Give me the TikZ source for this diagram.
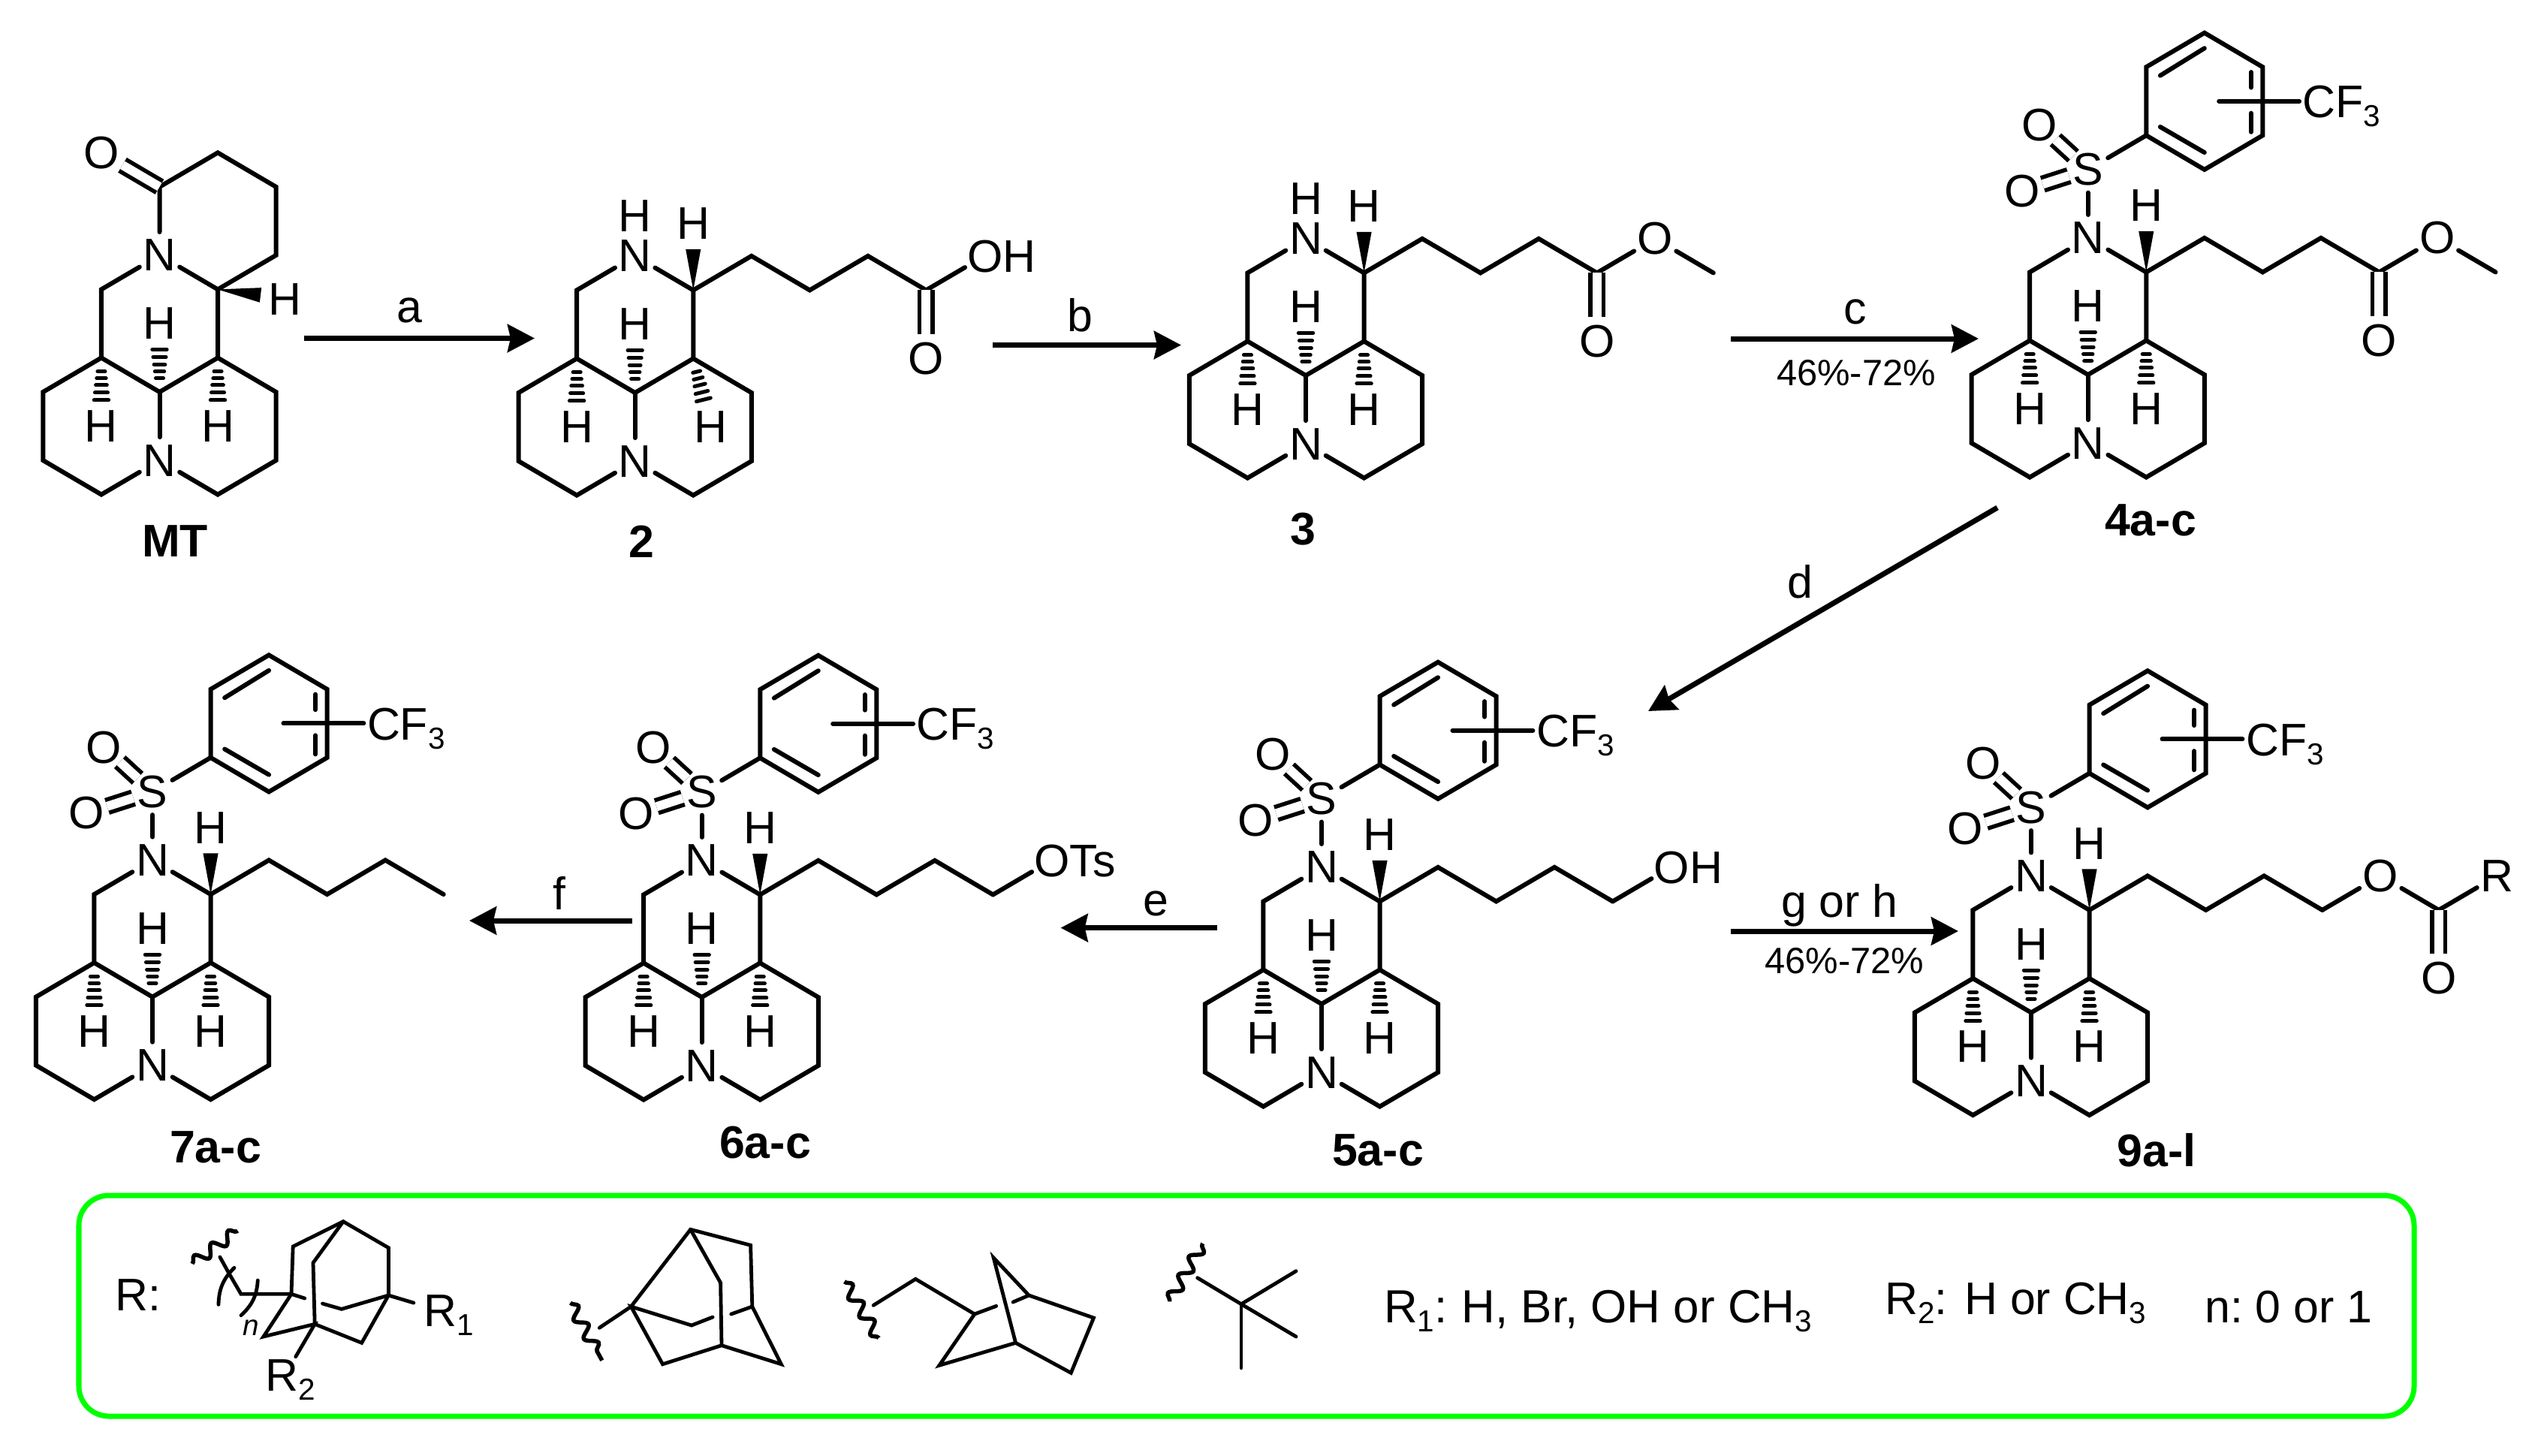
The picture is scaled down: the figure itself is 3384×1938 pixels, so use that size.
\documentclass[tikz,border=0pt]{standalone}
\usepackage{fontspec}
\setmainfont{Liberation Sans}
\usetikzlibrary{arrows.meta,decorations.pathmorphing}

\newcommand{\lowidx}[1]{\raisebox{-.2em}{\fontsize{11.5}{12}\selectfont #1}}

\tikzset{
  lbl/.style={inner sep=0,anchor=base,font=\fontsize{17.3}{20}\selectfont},
  yld/.style={inner sep=0,anchor=base,font=\fontsize{13.9}{16}\selectfont},
  cpd/.style={inner sep=0,anchor=center,font=\fontsize{17.3}{20}\selectfont\bfseries},
  atom/.style={circle,inner sep=0,minimum size=.6cm,font=\fontsize{17.3}{20}\selectfont},
  bond/.style={line width=.06cm,line cap=round,line join=miter},
  dbond/.style={line width=.055cm,double,double distance=.12cm},
  sobond/.style={dbond,shorten <=-.04cm,shorten >=-.04cm},
  thin bond/.style={line width=.048cm,line cap=round,line join=miter},
  wavy/.style={line width=.055cm,decorate,decoration={snake,amplitude=.075cm,segment length=.28cm}},
  rxn/.style={line width=.07cm,-{Stealth[length=.36cm,width=.37cm,inset=.04cm]}},
  mol/.style 2 args={shift={(#1,#2)},x=.775cm,y=.455cm},
  hashup/.pic={
    \foreach \d/\w in {.40/.065,.60/.08,.80/.095,1.02/.11,1.24/.125}
      \draw[line width=.05cm,line cap=round] (-\w,\d) -- (\w,\d);
  }
}

% the three fused rings, #1 = tilt of the right hash, #2 = x of its H
\newcommand{\tricycle}[2][0]{
  \coordinate (c0) at (0,0);
  \coordinate (c1) at (-1,1);
  \coordinate (c2) at (1,1);
  \coordinate (c3) at (-1,3);
  \coordinate (c4) at (1,3);
  \coordinate (c5) at (-2,0);
  \coordinate (c6) at (-2,-2);
  \coordinate (c7) at (-1,-3);
  \coordinate (c8) at (2,0);
  \coordinate (c9) at (2,-2);
  \coordinate (c10) at (1,-3);
  \node[atom] (Nb) at (0,-2) {N};
  \node[atom] (Nt) at (0,4) {N};
  \draw[bond] (c1) -- (c0) -- (c2);
  \draw[bond] (c0) -- (Nb);
  \draw[bond] (Nb) -- (c7) -- (c6) -- (c5) -- (c1) -- (c3) -- (Nt);
  \draw[bond] (Nb) -- (c10) -- (c9) -- (c8) -- (c2) -- (c4) -- (Nt);
  \pic at (0,0) {hashup};
  \pic[yscale=-1] at (-1,1) {hashup};
  \pic[rotate=#1,yscale=-1] at (1,1) {hashup};
  \node[atom] (Hc) at (0,2) {H};
  \node[atom] (Hl) at (-1,-1) {H};
  \node[atom] (Hr) at (#2,-1) {H};
}
\newcommand{\wedgeH}{
  \fill (c4) -- (.87,4.2) -- (1.13,4.2) -- cycle;
  \node[atom] (Hw) at (1,4.95) {H};
}
% butyl arm up to c15
\newcommand{\butyl}{
  \coordinate (c12) at (2,4);
  \coordinate (c13) at (3,3);
  \coordinate (c14) at (4,4);
  \coordinate (c15) at (5,3);
  \draw[bond] (c4) -- (c12) -- (c13) -- (c14) -- (c15);
}
\newcommand{\arylsulfonyl}{
  \node[atom] (S) at (0,6) {S};
  \node[atom] (Oa) at (-.83,7.3) {O};
  \node[atom] (Ob) at (-1.13,5.38) {O};
  \coordinate (r1) at (1,7);
  \coordinate (r2) at (1,9);
  \coordinate (r3) at (2,10);
  \coordinate (r4) at (3,9);
  \coordinate (r5) at (3,7);
  \coordinate (r6) at (2,6);
  \coordinate (cfa) at (2.25,8);
  \draw[bond] (Nt) -- (S);
  \draw[bond] (S) -- (r1);
  \draw[sobond] (S) -- (Oa);
  \draw[sobond] (S) -- (Ob);
  \draw[bond] (r1) -- (r2) -- (r3) -- (r4) -- (r5) -- (r6) -- cycle;
  \draw[bond] (1.24,8.75) -- (2,9.55);
  \draw[bond] (1.24,7.25) -- (2,6.5);
  \draw[bond] (2.8,8.85) -- (2.8,8.4);
  \draw[bond] (2.8,7.65) -- (2.8,7.1);
  \node[lbl,anchor=base west] (cf) at (3.68,7.52) {CF\lowidx{3}};
  \draw[bond,shorten >=.04cm] (cfa) -- (cfa -| cf.west);
}

\begin{document}
\begin{tikzpicture}[x=.01cm,y=-.01cm]
\useasboundingbox (0,0) rectangle (3384,1938);

% MT
\begin{scope}[mol={212.5}{522},name prefix=mt-]
\tricycle{1}
\coordinate (l1) at (2,4);
\coordinate (l2) at (2,6);
\coordinate (l3) at (1,7);
\coordinate (l4) at (0,6);
\node[atom] (Ok) at (-1,7) {O};
\node[atom] (Hs) at (2.15,2.72) {H};
\draw[bond] (c4) -- (l1) -- (l2) -- (l3) -- (l4) -- (Nt);
\draw[dbond] (l4) -- (Ok);
\fill (c4) -- (1.75,3.05) -- (1.72,2.62) -- cycle;
\end{scope}
\node[cpd] (lmt) at (233,721) {MT};

% 2
\begin{scope}[mol={845.7}{523},name prefix=two-]
\tricycle[14]{1.3}
\wedgeH
\butyl
\node[lbl,anchor=center] (Hn) at (0,5.17) {H};
\node[atom] (Ok) at (5,1) {O};
\node[lbl,anchor=base west] (oh) at (5.7,3.52) {OH};
\coordinate (co) at (6,4);
\draw[bond,shorten >=.3cm] (c15) -- (co);
\draw[dbond] (c15) -- (Ok);
\end{scope}
\node[cpd] (ltwo) at (854,721) {2};

% 3
\begin{scope}[mol={1739}{500},name prefix=three-]
\tricycle{1}
\wedgeH
\butyl
\node[lbl,anchor=center] (Hn) at (0,5.17) {H};
\node[atom] (Ok) at (5,1) {O};
\node[atom] (Oe) at (6,4) {O};
\coordinate (me) at (7,3);
\draw[bond] (c15) -- (Oe);
\draw[bond] (Oe) -- (me);
\draw[dbond] (c15) -- (Ok);
\end{scope}
\node[cpd] (lthree) at (1735,705) {3};

% 4a-c
\begin{scope}[mol={2780.7}{499},name prefix=four-]
\tricycle{1}
\wedgeH
\butyl
\arylsulfonyl
\node[atom] (Ok) at (5,1) {O};
\node[atom] (Oe) at (6,4) {O};
\coordinate (me) at (7,3);
\draw[bond] (c15) -- (Oe);
\draw[bond] (Oe) -- (me);
\draw[dbond] (c15) -- (Ok);
\end{scope}
\node[cpd] (lfour) at (2864,693) {4a-c};

% 7a-c
\begin{scope}[mol={203}{1327.6},name prefix=seven-]
\tricycle{1}
\wedgeH
\butyl
\arylsulfonyl
\end{scope}
\node[cpd] (lseven) at (287,1527.6) {7a-c};

% 6a-c
\begin{scope}[mol={934.7}{1328},name prefix=six-]
\tricycle{1}
\wedgeH
\butyl
\arylsulfonyl
\node[lbl,anchor=base west] (ots) at (5.7,3.52) {OTs};
\coordinate (co) at (6,4);
\draw[bond,shorten >=.3cm] (c15) -- (co);
\end{scope}
\node[cpd] (lsix) at (1019,1522) {6a-c};

% 5a-c
\begin{scope}[mol={1760}{1337},name prefix=five-]
\tricycle{1}
\wedgeH
\butyl
\arylsulfonyl
\node[lbl,anchor=base west] (oh) at (5.7,3.52) {OH};
\coordinate (co) at (6,4);
\draw[bond,shorten >=.3cm] (c15) -- (co);
\end{scope}
\node[cpd] (lfive) at (1835,1532) {5a-c};

% 9a-l
\begin{scope}[mol={2705}{1348.5},name prefix=nine-]
\tricycle{1}
\wedgeH
\butyl
\arylsulfonyl
\node[atom] (Oe) at (6,4) {O};
\coordinate (cq) at (7,3);
\node[atom] (Ok) at (7,1) {O};
\node[atom] (Rg) at (8,4) {R};
\draw[bond] (c15) -- (Oe);
\draw[bond] (Oe) -- (cq);
\draw[bond] (cq) -- (Rg);
\draw[dbond] (cq) -- (Ok);
\end{scope}
\node[cpd] (lnine) at (2872,1532) {9a-l};

% reaction arrows
\coordinate (ra0) at (405,450.5);
\coordinate (ra1) at (712,450.5);
\coordinate (rb0) at (1322,459.5);
\coordinate (rb1) at (1573,459.5);
\coordinate (rc0) at (2305,451);
\coordinate (rc1) at (2635,451);
\coordinate (rd0) at (2660,676);
\coordinate (rd1) at (2195,947);
\coordinate (re0) at (1621,1235.6);
\coordinate (re1) at (1412.6,1235.6);
\coordinate (rf0) at (842,1226);
\coordinate (rf1) at (625,1226);
\coordinate (rg0) at (2305,1240);
\coordinate (rg1) at (2608,1240);
\draw[rxn] (ra0) -- (ra1);
\draw[rxn] (rb0) -- (rb1);
\draw[rxn] (rc0) -- (rc1);
\draw[rxn] (rd0) -- (rd1);
\draw[rxn] (re0) -- (re1);
\draw[rxn] (rf0) -- (rf1);
\draw[rxn] (rg0) -- (rg1);
\node[lbl] (ta) at (545,429.5) {a};
\node[lbl] (tb) at (1438,441.5) {b};
\node[lbl] (tc) at (2471,431) {c};
\node[yld] (tcy) at (2472,513) {46\%-72\%};
\node[lbl] (td) at (2397,796) {d};
\node[lbl] (te) at (1539,1219.5) {e};
\node[lbl] (tf) at (745,1211) {f};
\node[lbl] (tg) at (2450,1221) {g or h};
\node[yld] (tgy) at (2456.5,1296) {46\%-72\%};

% R box
\draw[line width=.07cm,color={rgb,255:red,0;green,255;blue,0},rounded corners=.4cm] (105,1592) rectangle (3215,1886);
\node[lbl,anchor=base west] (tr) at (152.7,1745.7) {R:};

% adamantane with R1, R2
\coordinate (T) at (457.1,1626.7);
\coordinate (L1) at (390.2,1660);
\coordinate (L2) at (388,1723.3);
\coordinate (In) at (417,1681.7);
\coordinate (Ib) at (419.2,1763.3);
\coordinate (Rt) at (517.4,1661.7);
\coordinate (Rb) at (517.4,1725);
\coordinate (Mi) at (454.9,1743.3);
\coordinate (Me) at (429.5,1736);
\coordinate (Bt) at (481.7,1788.3);
\coordinate (At) at (350.9,1780);
\coordinate (St) at (405.8,1729);
\coordinate (Ra) at (550.9,1735);
\coordinate (Rc) at (393.8,1806.7);
\coordinate (Ca) at (321,1723.3);
\coordinate (Cb) at (304.5,1695);
\coordinate (Cc) at (292.9,1674);
\coordinate (Ba) at (291,1737.3);
\coordinate (Bb) at (312,1688.3);
\coordinate (Bc) at (343.3,1705);
\coordinate (Bd) at (321,1751.7);
\coordinate (Wa) at (256,1683);
\coordinate (Wb) at (316.5,1639);
\draw[thin bond] (St) -- (L2) -- (L1) -- (T) -- (Rt) -- (Rb) -- (Mi) -- (Me);
\draw[thin bond] (T) -- (In) -- (Ib) -- (Bt) -- (Rb) -- (Ra);
\draw[thin bond] (L2) -- (At) -- (Ib) -- (Rc);
\draw[thin bond] (L2) -- (Ca) -- (Cb) -- (Cc);
\draw[thin bond] (Ba) to[bend left=22] (Bb);
\draw[thin bond] (Bc) to[bend left=22] (Bd);
\draw[wavy] (Wa) -- (Wb);
\node[inner sep=0,font=\fontsize{11}{12}\selectfont\itshape] (tn) at (334.4,1768.3) {n};
\node[lbl,anchor=base west] (tra) at (563.4,1766) {R\lowidx{1}};
\node[lbl,anchor=base west] (trb) at (353,1852.7) {R\lowidx{2}};

% adamantyl
\coordinate (Da) at (919.6,1637.3);
\coordinate (Db) at (999.6,1658.3);
\coordinate (Dc) at (1001.8,1740);
\coordinate (Dd) at (1040.4,1816.7);
\coordinate (De) at (961,1791.7);
\coordinate (Df) at (882.5,1816.7);
\coordinate (Dg) at (840.4,1740);
\coordinate (Dh) at (959.6,1708.3);
\coordinate (Di) at (921,1765);
\coordinate (Dj) at (949.1,1754);
\coordinate (Dk) at (973.7,1750);
\coordinate (Dl) at (798.2,1768.3);
\coordinate (Wc) at (759.6,1735);
\coordinate (Wd) at (801.8,1811.7);
\draw[thin bond] (Dg) -- (Da) -- (Db) -- (Dc) -- (Dd) -- (De) -- (Df) -- (Dg) -- (Di) -- (Dj);
\draw[thin bond] (Da) -- (Dh) -- (De);
\draw[thin bond] (Dc) -- (Dk);
\draw[thin bond] (Dg) -- (Dl);
\draw[wavy] (Wc) -- (Wd);

% norbornylmethyl
\coordinate (Pa) at (1163.2,1738.3);
\coordinate (Pb) at (1219.3,1703.3);
\coordinate (Pc) at (1297.9,1750);
\coordinate (Pd) at (1250.9,1818.3);
\coordinate (Pe) at (1352.6,1788.3);
\coordinate (Pf) at (1426.3,1828.3);
\coordinate (Pg) at (1456.5,1755);
\coordinate (Ph) at (1370.2,1725);
\coordinate (Pi) at (1323.2,1675);
\coordinate (Pj) at (1326.7,1739.3);
\coordinate (Pk) at (1349.1,1734);
\coordinate (We) at (1124.6,1706.7);
\coordinate (Wf) at (1170.2,1781.7);
\draw[thin bond] (Pa) -- (Pb) -- (Pc) -- (Pd) -- (Pe) -- (Pf) -- (Pg) -- (Ph) -- (Pi) -- (Pe);
\draw[thin bond] (Pc) -- (Pj);
\draw[thin bond] (Ph) -- (Pk);
\draw[wavy] (We) -- (Wf);

% tert-butyl
\coordinate (Qa) at (1594.7,1701.7);
\coordinate (Qc) at (1653,1736.7);
\coordinate (Qd) at (1726,1692.7);
\coordinate (Qe) at (1726,1780);
\coordinate (Qf) at (1653,1821.7);
\coordinate (Wg) at (1557.5,1733.3);
\coordinate (Wh) at (1601.8,1656);
\draw[thin bond] (Qa) -- (Qc) -- (Qd);
\draw[thin bond] (Qc) -- (Qe);
\draw[thin bond] (Qc) -- (Qf);
\draw[wavy] (Wg) -- (Wh);

\node[lbl,anchor=base west,font=\fontsize{17.6}{20}\selectfont] (tra2) at (1842.5,1761) {R\lowidx{1}:\hspace{-.06em} H, Br, OH or CH\lowidx{3}};
\node[lbl,anchor=base west] (trb2) at (2509.6,1750) {R\lowidx{2}: H or CH\lowidx{3}};
\node[lbl,anchor=base west] (tnn) at (2936,1761) {n:\hspace{-.1em} 0 or 1};
\end{tikzpicture}
\end{document}
